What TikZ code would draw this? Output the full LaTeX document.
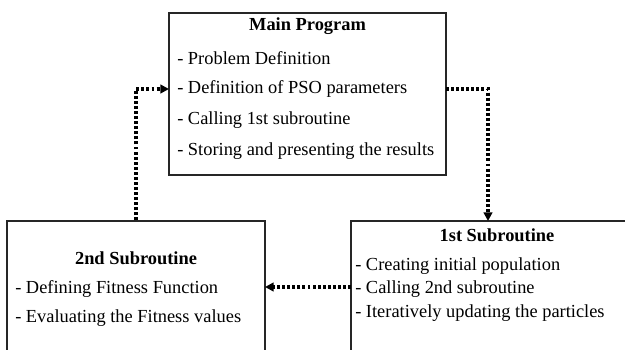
\documentclass[tikz,border=0pt]{standalone}
\usepackage{fontspec}
\setmainfont{Liberation Serif}
\usetikzlibrary{arrows.meta}
\begin{document}
\begin{tikzpicture}[x=0.75pt,y=-0.75pt,
  box/.style={draw=black!85,line width=0.9pt,inner sep=0pt},
  txt/.style={anchor=west,inner sep=0pt,font=\fontsize{13.8}{16}\selectfont},
  ttl/.style={inner sep=0pt,font=\fontsize{13.8}{16}\selectfont\bfseries},
  link/.style={line width=2.4pt,dash pattern=on 2.2pt off 1.6pt,
    -{Triangle[length=6.5pt,width=6.5pt]},shorten >=0pt}]
\useasboundingbox (0,0) rectangle (625,350);
\clip (0,0) rectangle (625,350);
\node[box,minimum width=277*0.75pt,minimum height=162*0.75pt] (main) at (307.5,94) {};
\node[box,minimum width=258*0.75pt,minimum height=160*0.75pt] (sub2) at (136,301) {};
\node[box,minimum width=300*0.75pt,minimum height=160*0.75pt] (sub1) at (501,301) {};
\node[ttl] (t0) at (307.5,26) {Main Program};
\node[txt] (m1) at (177,58) {- Problem Definition};
\node[txt] (m2) at (177,89) {- Definition of PSO parameters};
\node[txt] (m3) at (177,120) {- Calling 1st subroutine};
\node[txt] (m4) at (177,151) {- Storing and presenting the results};
\node[ttl] (t2) at (136,258) {2nd Subroutine};
\node[txt] (s21) at (15,289) {- Defining Fitness Function};
\node[txt] (s22) at (15,318) {- Evaluating the Fitness values};
\node[ttl] (t1) at (497,235) {1st Subroutine};
\node[txt] (s11) at (355,266) {- Creating initial population};
\node[txt] (s12) at (355,289) {- Calling 2nd subroutine};
\node[txt] (s13) at (355,313) {- Iteratively updating the particles};
\coordinate (mL) at (169,89);
\coordinate (mR) at (446,89);
\coordinate (s1T) at (488,221);
\coordinate (s1L) at (351,287);
\coordinate (s2R) at (265,287);
\draw[link] (sub2.north) |- (mL);
\draw[link] (mR) -| (s1T);
\draw[link] (s1L) -- (s2R);
\end{tikzpicture}
\end{document}
